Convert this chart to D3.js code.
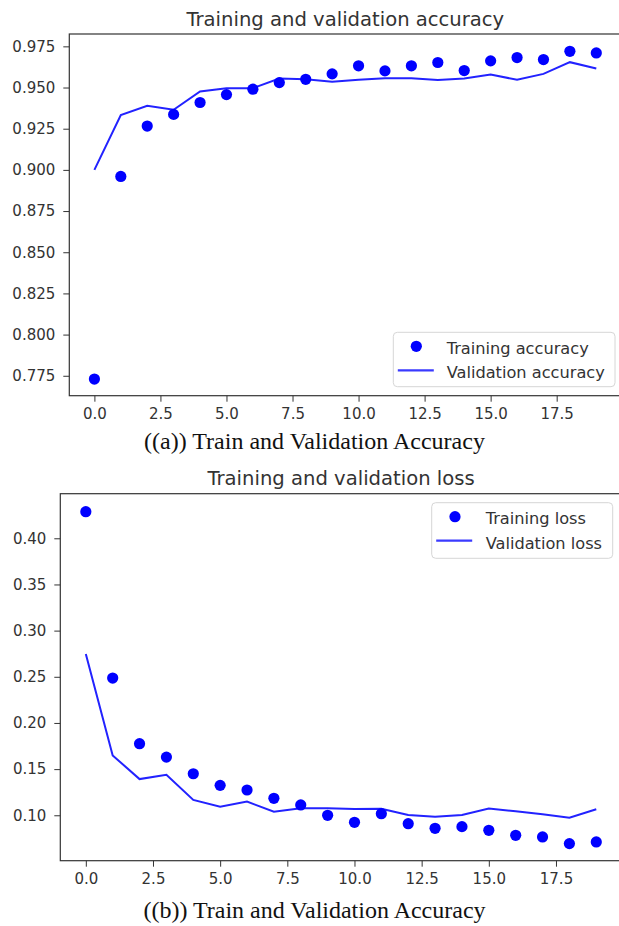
<!DOCTYPE html>
<html>
<head>
<meta charset="utf-8">
<script src="https://cdn.jsdelivr.net/npm/d3@7"></script>
<style>
  html, body { margin: 0; padding: 0; background: #fff; }
  svg { display: block; }
  .tick text { font-family: "DejaVu Sans", sans-serif; font-size: 15px; fill: #333; }
  .tick line { stroke: #333; }
  .domain { display: none; }
</style>
</head>
<body>
<svg id="chart" width="619" height="926"></svg>
<script>
// Epoch indices
const epochs = d3.range(20);

// Accuracy per epoch
const trainAcc = [0.773, 0.896, 0.9266, 0.9337, 0.9409, 0.9457, 0.949, 0.953, 0.955, 0.9583,
                  0.9632, 0.9601, 0.9632, 0.9652, 0.9603, 0.9662, 0.9682, 0.967, 0.972, 0.971];
const valAcc   = [0.900, 0.9333, 0.9389, 0.9365, 0.9476, 0.9496, 0.9496, 0.9555, 0.9551, 0.9535,
                  0.9547, 0.9557, 0.9557, 0.9545, 0.9555, 0.9579, 0.9547, 0.9583, 0.9654, 0.9615];

// Loss per epoch
const trainLoss = [0.4288, 0.2486, 0.1775, 0.163, 0.145, 0.1324, 0.1274, 0.1184, 0.1112, 0.100,
                   0.0924, 0.1017, 0.0909, 0.0859, 0.0877, 0.0837, 0.0783, 0.0765, 0.0693, 0.0711];
const valLoss   = [0.2746, 0.1648, 0.1392, 0.1439, 0.1166, 0.1093, 0.1148, 0.1039, 0.1076, 0.1076,
                   0.1069, 0.107, 0.1003, 0.0985, 0.1003, 0.1072, 0.1043, 0.1011, 0.0974, 0.1065];

// Tick labels
const xTicks = [0, 2.5, 5, 7.5, 10, 12.5, 15, 17.5];
const accTicks = [0.775, 0.800, 0.825, 0.850, 0.875, 0.900, 0.925, 0.950, 0.975];
const lossTicks = [0.10, 0.15, 0.20, 0.25, 0.30, 0.35, 0.40];

const svg = d3.select("#chart");
const DOT = "#0000ff";
const LINE = "#2222ff";

function panel(cfg) {
  const x = d3.scaleLinear().domain([-0.95, 19.95]).range([cfg.left, cfg.right]);
  const y = d3.scaleLinear().domain(cfg.yDomain).range([cfg.bottom, cfg.top]);
  const g = svg.append("g");

  // x axis
  g.append("g")
    .attr("transform", `translate(0,${cfg.bottom})`)
    .call(d3.axisBottom(x).tickValues(xTicks).tickFormat(d3.format(".1f")).tickSize(6).tickPadding(7));
  // y axis
  g.append("g")
    .attr("transform", `translate(${cfg.left},0)`)
    .call(d3.axisLeft(y).tickValues(cfg.yTicks).tickFormat(d3.format(cfg.yFmt)).tickSize(6).tickPadding(8));

  // spines
  g.append("rect")
    .attr("x", cfg.left).attr("y", cfg.top)
    .attr("width", cfg.right - cfg.left).attr("height", cfg.bottom - cfg.top)
    .attr("fill", "none").attr("stroke", "#333").attr("stroke-width", 1.2);

  // validation line
  const line = d3.line().x((d, i) => x(epochs[i])).y(d => y(d));
  g.append("path").datum(cfg.val)
    .attr("d", line).attr("fill", "none")
    .attr("stroke", LINE).attr("stroke-width", 2);

  // training dots
  g.selectAll("circle.pt").data(cfg.train).enter().append("circle")
    .attr("class", "pt")
    .attr("cx", (d, i) => x(epochs[i])).attr("cy", d => y(d))
    .attr("r", 5.6).attr("fill", DOT);

  // title
  g.append("text")
    .attr("x", (cfg.left + cfg.right) / 2).attr("y", cfg.titleY)
    .attr("text-anchor", "middle")
    .style("font-family", "DejaVu Sans, sans-serif").style("font-size", "19.6px").style("fill", "#333")
    .text(cfg.title);

  // legend
  const L = cfg.legend;
  const lg = g.append("g");
  lg.append("rect")
    .attr("x", L.x).attr("y", L.y).attr("width", L.w).attr("height", L.h)
    .attr("rx", 4).attr("fill", "#fff").attr("fill-opacity", 0.8)
    .attr("stroke", "#d6d6d6").attr("stroke-width", 1);
  lg.append("circle").attr("cx", L.x + L.mx).attr("cy", L.y + 14).attr("r", 5.6).attr("fill", DOT);
  lg.append("line")
    .attr("x1", L.x + 4.5).attr("x2", L.x + 40.5)
    .attr("y1", L.y + 38).attr("y2", L.y + 38)
    .attr("stroke", "#3a3aff").attr("stroke-width", 2.2);
  lg.selectAll("text.lab").data(cfg.labels).enter().append("text")
    .attr("class", "lab")
    .attr("x", L.x + L.tx).attr("y", (d, i) => L.y + 21.5 + i * 24.5)
    .style("font-family", "DejaVu Sans, sans-serif").style("font-size", "16.2px").style("fill", "#333")
    .text(d => d);

  // caption
  svg.append("text")
    .attr("x", 314.5).attr("y", cfg.capY)
    .attr("text-anchor", "middle")
    .style("font-family", "Liberation Serif, Times New Roman, serif").style("font-size", "24px").style("fill", "#111")
    .text(cfg.caption);
}

panel({
  left: 69.3, right: 621.4, top: 34, bottom: 395.7,
  yDomain: [0.7629, 0.9825], yTicks: accTicks, yFmt: ".3f",
  train: trainAcc, val: valAcc,
  title: "Training and validation accuracy", titleY: 26,
  labels: ["Training accuracy", "Validation accuracy"],
  legend: { x: 393.3, y: 332.3, w: 221.7, h: 54.4, mx: 23, tx: 53.4 },
  caption: "((a)) Train and Validation Accuracy", capY: 449
});

panel({
  left: 60.3, right: 621.8, top: 493.7, bottom: 860.7,
  yDomain: [0.0508, 0.4483], yTicks: lossTicks, yFmt: ".2f",
  train: trainLoss, val: valLoss,
  title: "Training and validation loss", titleY: 485,
  labels: ["Training loss", "Validation loss"],
  legend: { x: 431.7, y: 502.7, w: 181, h: 55.6, mx: 23.3, tx: 54 },
  caption: "((b)) Train and Validation Accuracy", capY: 918
});
</script>
</body>
</html>
